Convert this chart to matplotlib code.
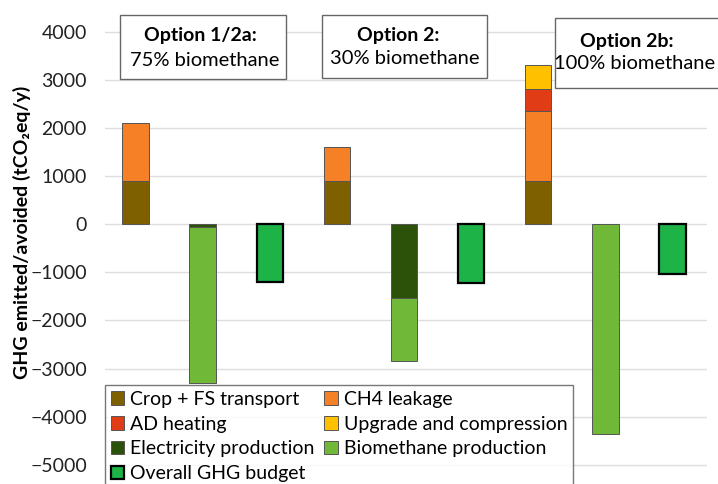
import matplotlib.pyplot as plt
from matplotlib.patches import Rectangle

plt.rcParams['font.family'] = ['Lato', 'DejaVu Sans']

# bar slots: 3 per option (emissions, avoided, overall budget)
crop_fs = [900, 0, 0, 900, 0, 0, 900, 0, 0]
ch4_leak = [1200, 0, 0, 700, 0, 0, 1450, 0, 0]
ad_heat = [0, 0, 0, 0, 0, 0, 450, 0, 0]
upgrade = [0, 0, 0, 0, 0, 0, 500, 0, 0]
electricity = [0, -50, 0, 0, -1540, 0, 0, 0, 0]
biomethane = [0, -3250, 0, 0, -1300, 0, 0, -4360, 0]
overall = [0, 0, -1210, 0, 0, -1230, 0, 0, -1045]

yticks = [4000, 3000, 2000, 1000, 0, -1000, -2000, -3000, -4000, -5000]

W, H = 718, 484
fig = plt.figure(figsize=(W / 100, H / 100), dpi=100)
ax = fig.add_axes([105 / W, 0, (707 - 105) / W, 1])

bw = 0.4
edge = dict(edgecolor='#555555', linewidth=0.7)


def stack(vals, bottom, **kw):
    # skip the empty slots so no zero-height outlines are drawn
    idx = [i for i, v in enumerate(vals) if v != 0]
    h = ax.bar(idx, [vals[i] for i in idx], bw, bottom=[bottom[i] for i in idx], **kw)
    return h, [b + v for b, v in zip(bottom, vals)]


zero = [0] * 9
h_crop, b = stack(crop_fs, zero, color='#7F6000', label='Crop + FS transport', **edge)
h_ch4, b = stack(ch4_leak, b, color='#F58025', label='CH4 leakage', **edge)
h_ad, b = stack(ad_heat, b, color='#E03C16', label='AD heating', **edge)
h_up, b = stack(upgrade, b, color='#FFC000', label='Upgrade and compression', **edge)
h_el, b = stack(electricity, zero, color='#2B5208', label='Electricity production', **edge)
h_bio, b = stack(biomethane, b, color='#70B838', label='Biomethane production', **edge)
h_all, _ = stack(overall, zero, color='#1DB346', edgecolor='black', linewidth=1.6,
                 label='Overall GHG budget')

ax.set_xlim(-0.46, 8.52)
ax.set_ylim(-5400, 4660)
ax.set_yticks(yticks)
ax.set_yticklabels([f'{v}'.replace('-', '\u2212') for v in yticks])
ax.tick_params(axis='y', length=0, pad=13, labelsize=14, labelcolor='#222222')
ax.set_xticks([])
for s in ax.spines.values():
    s.set_visible(False)
ax.grid(axis='y', color='#DDDDDD', linewidth=1)
ax.set_axisbelow(True)

fig.text(22 / W, 1 - 232 / H, 'GHG emitted/avoided (tCO\u2082eq/y)', rotation=90,
         ha='center', va='center', fontsize=14, fontweight='bold')

# option boxes (pixel coords from the top-left)
boxes = [
    (120, 15, 286, 79, 'Option 1/2a:', 200, 35, '75% biomethane', 205, 60),
    (322, 15, 487, 78, 'Option 2:', 398, 35, '30% biomethane', 405, 59),
    (555, 18, 722, 88, 'Option 2b:', 627, 41, '100% biomethane', 635, 63),
]
for x0, y0, x1, y1, t1, tx1, ty1, t2, tx2, ty2 in boxes:
    fig.patches.append(Rectangle((x0 / W, 1 - y1 / H), (x1 - x0) / W, (y1 - y0) / H,
                                 transform=fig.transFigure, facecolor='white',
                                 edgecolor='#666666', linewidth=1, zorder=5))
    fig.text(tx1 / W, 1 - ty1 / H, t1, ha='center', va='center', fontsize=14,
             fontweight='bold', zorder=6)
    fig.text(tx2 / W, 1 - ty2 / H, t2, ha='center', va='center', fontsize=14.5, zorder=6)

handles = [h_crop, h_ad, h_el, h_all, h_ch4, h_up, h_bio]
leg = fig.legend(handles=handles, labels=[h.get_label() for h in handles], ncol=2,
                 loc='upper left', bbox_to_anchor=(105 / W, 1 - 385 / H),
                 fontsize=14, frameon=True, fancybox=False, edgecolor='#555555',
                 handlelength=0.7, handleheight=0.7, handletextpad=0.3,
                 columnspacing=0.5, labelspacing=0.4, borderpad=0.3, borderaxespad=0)
leg.get_frame().set_linewidth(1)
leg.set_zorder(10)

fig.savefig('out.png', dpi=100)
